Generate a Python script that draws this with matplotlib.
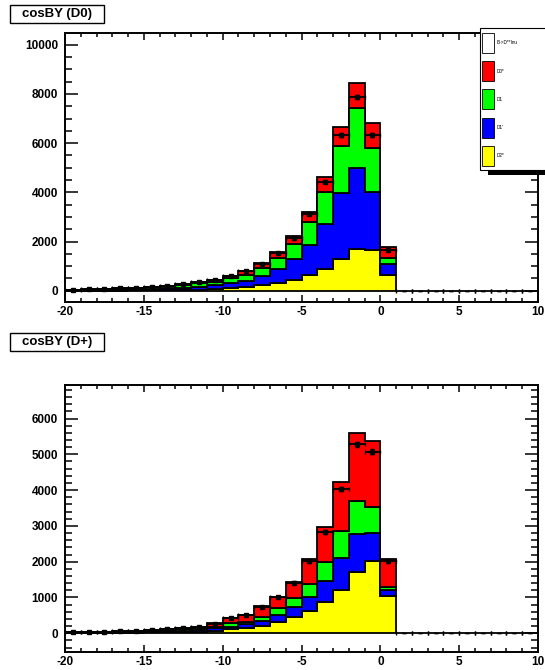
import numpy as np
import matplotlib
matplotlib.use("Agg")
import matplotlib.pyplot as plt
from matplotlib.patches import Rectangle
from matplotlib.ticker import MultipleLocator

plt.rcParams['font.family'] = ['Liberation Sans', 'DejaVu Sans']
plt.rcParams['axes.unicode_minus'] = False

# ---- binning: 1-unit bins from -20 to 10, only [-20, 1) populated ----
edges = np.arange(-20, 2, 1)          # filled bins -20 .. 1
all_edges = np.arange(-20, 11, 1)     # full axis range for the data points

components = ["D2*", "D1'", "D1", "D0*"]          # stacking order, bottom to top
comp_colors = ["#ffff00", "#0000ff", "#00ff00", "#ff0000"]

# ---- cosBY (D0) ----
d0_D2s = [3, 4, 6, 8, 10, 13, 17, 22, 30, 57, 98, 138, 232, 300, 435, 638, 870, 1276, 1695, 1654, 638]
d0_D1p = [16, 22, 30, 38, 48, 64, 83, 108, 140, 175, 202, 269, 366, 570, 841, 1220, 1841, 2696, 3281, 2370, 435]
d0_D1 = [16, 22, 30, 38, 48, 64, 85, 115, 145, 134, 204, 231, 313, 447, 610, 947, 1313, 1910, 2439, 1765, 268]
d0_D0s = [5, 7, 9, 11, 14, 19, 25, 35, 45, 69, 106, 175, 227, 268, 338, 406, 586, 760, 1016, 1040, 423]
d0_data = [38, 52, 72, 92, 115, 153, 200, 268, 345, 420, 590, 790, 1100, 1545, 2154, 3118, 4431, 6317, 7862, 6317, 1642,
           0, 0, 0, 0, 0, 0, 0, 0, 0]

# ---- cosBY (D+) ----
dp_D2s = [6, 8, 11, 14, 18, 23, 29, 36, 45, 73, 112, 156, 204, 324, 455, 623, 874, 1209, 1721, 2028, 1050]
dp_D1p = [7, 9, 12, 16, 20, 25, 31, 39, 47, 67, 72, 95, 148, 187, 271, 383, 595, 886, 1044, 782, 151]
dp_D1 = [6, 9, 12, 16, 19, 25, 31, 39, 48, 44, 95, 73, 112, 187, 252, 371, 514, 771, 939, 710, 84]
dp_D0s = [6, 9, 10, 14, 18, 22, 29, 36, 44, 95, 157, 187, 299, 324, 463, 690, 978, 1352, 1883, 1852, 790]
dp_data = [24, 34, 43, 58, 72, 91, 115, 144, 178, 270, 425, 500, 740, 1006, 1413, 2011, 2838, 4031, 5279, 5073, 2011,
           0, 0, 0, 0, 0, 0, 0, 0, 0]

legend_labels = ["B->D**lnu", "D0*", "D1", "D1'", "D2*"]
legend_colors = ["white", "#ff0000", "#00ff00", "#0000ff", "#ffff00"]

W, H = 545, 670
fig = plt.figure(figsize=(W / 100, H / 100), dpi=100)


def px_axes(left, top, right, bottom):
    return fig.add_axes([left / W, 1 - bottom / H, (right - left) / W, (bottom - top) / H])


def draw_panel(ax, stack, data, ylim, ymajor, yminor):
    cum = np.zeros(len(edges) - 1)
    for vals, col in zip(stack, comp_colors):
        top = cum + np.asarray(vals, float)
        ax.stairs(top, edges, baseline=cum, fill=True, facecolor=col,
                  edgecolor="black", linewidth=1.3, zorder=2)
        cum = top
    centers = 0.5 * (all_edges[:-1] + all_edges[1:])
    data = np.asarray(data, float)
    ax.errorbar(centers, data, xerr=0.5, yerr=np.sqrt(data), fmt="none",
                ecolor="black", elinewidth=1.3, capsize=1.6, capthick=1.0, zorder=4)
    filled = data > 0
    ax.plot(centers[filled], data[filled], "s", ms=2.6, color="black", zorder=5)
    ax.set_xlim(-20, 10)
    ax.set_ylim(*ylim)
    ax.xaxis.set_major_locator(MultipleLocator(5))
    ax.xaxis.set_minor_locator(MultipleLocator(1))
    ax.yaxis.set_major_locator(MultipleLocator(ymajor))
    ax.yaxis.set_minor_locator(MultipleLocator(yminor))
    ax.tick_params(axis="both", which="both", direction="in", top=True, right=True,
                   width=1.1, colors="black")
    ax.tick_params(axis="y", which="major", length=9.4, pad=5)
    ax.tick_params(axis="y", which="minor", length=5)
    ax.tick_params(axis="x", which="major", length=5, pad=3)
    ax.tick_params(axis="x", which="minor", length=2.9)
    for lab in ax.get_xticklabels() + ax.get_yticklabels():
        lab.set_fontsize(8.5)
        lab.set_fontweight("bold")
    for sp in ax.spines.values():
        sp.set_linewidth(1.4)


def title_box(text, left, top, right, bottom):
    fig.add_artist(Rectangle((left / W, 1 - bottom / H), (right - left) / W, (bottom - top) / H,
                             transform=fig.transFigure, facecolor="white", edgecolor="black",
                             linewidth=1.0, zorder=5))
    fig.text((left + right) / 2 / W, 1 - (top + bottom) / 2 / H, text, ha="center", va="center",
             fontsize=9.5, fontweight="bold", zorder=6)


ax1 = px_axes(65, 32.7, 538, 302)
draw_panel(ax1, [d0_D2s, d0_D1p, d0_D1, d0_D0s], d0_data, (-459, 10488), 2000, 500)

ax2 = px_axes(65, 384.5, 538, 652.3)
draw_panel(ax2, [dp_D2s, dp_D1p, dp_D1, dp_D0s], dp_data, (-531, 6950), 1000, 200)

title_box("cosBY (D0)", 10, 5, 104, 23)
title_box("cosBY (D+)", 10, 333, 104, 351)

# legend box (top right, runs off the canvas edge) with a solid drop shadow
lx0, ly0, lx1, ly1 = 480, 28, 560, 170
fig.add_artist(Rectangle(((lx0 + 8) / W, 1 - (ly1 + 5) / H), (lx1 - lx0) / W, (ly1 - ly0) / H,
                         transform=fig.transFigure, facecolor="black", edgecolor="black",
                         linewidth=0, zorder=7))
fig.add_artist(Rectangle((lx0 / W, 1 - ly1 / H), (lx1 - lx0) / W, (ly1 - ly0) / H,
                         transform=fig.transFigure, facecolor="white", edgecolor="black",
                         linewidth=0.8, zorder=8))
box_tops = [32.7, 61.3, 89.3, 117.7, 145.7]
for lab, col, bt in zip(legend_labels, legend_colors, box_tops):
    fig.add_artist(Rectangle((482 / W, 1 - (bt + 20) / H), 12 / W, 20 / H,
                             transform=fig.transFigure, facecolor=col, edgecolor="black",
                             linewidth=0.6, zorder=9))
    fig.text(497 / W, 1 - (bt + 10) / H, lab, fontsize=3.4, ha="left", va="center", zorder=10)

fig.savefig("out.png", dpi=100)
